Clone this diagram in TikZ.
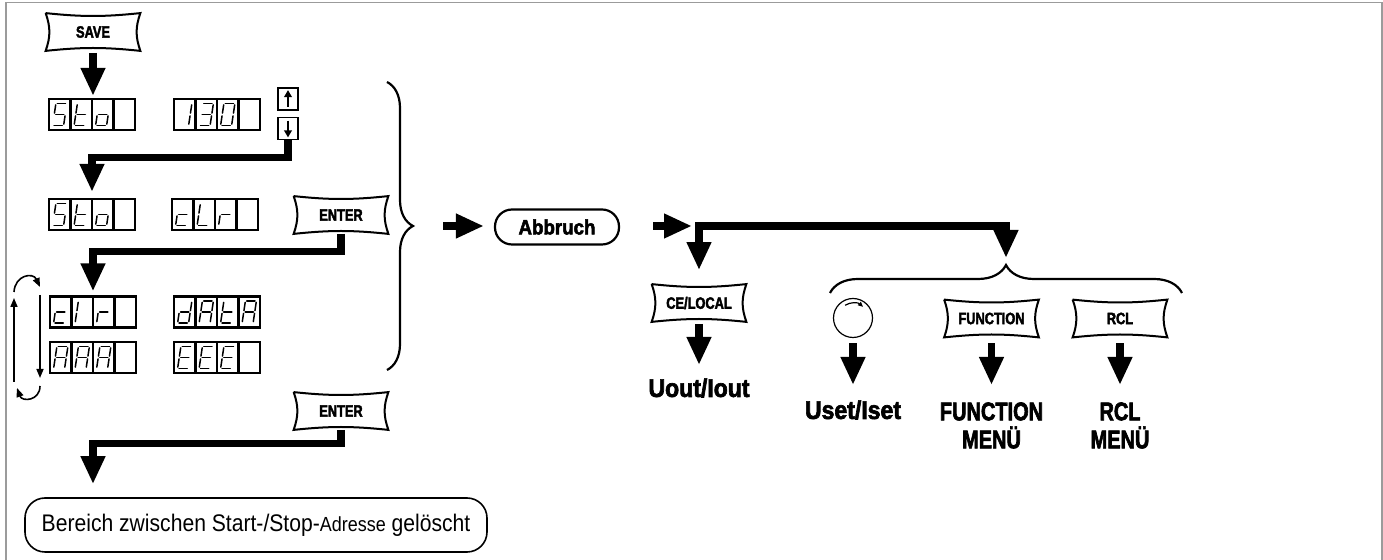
\documentclass[tikz,border=0pt]{standalone}
\usepackage{fontspec}
\setmainfont{Liberation Sans}
\newfontfamily\condfont[FakeStretch=0.78,BoldFeatures={FakeBold=2.5}]{Liberation Sans}
\newfontfamily\narrowfont[FakeStretch=0.9,BoldFeatures={FakeBold=2.5}]{Liberation Sans}
\newfontfamily\plainfont[FakeStretch=0.88]{Liberation Sans}
\usepackage{tikz}
\usetikzlibrary{
  arrows.meta,
  decorations.pathreplacing
}
\definecolor{framegray}{RGB}{155,155,155}
\tikzset{
  pageframe/.style={draw=framegray,line width=0.75pt},
  keylab/.style={font=\condfont\bfseries\fontsize{8.2}{9}\selectfont,
    minimum width=47pt,minimum height=18.5pt,inner sep=0pt},
  keyline/.style={line width=1pt},
  keycap/.style={keylab,append after command={\pgfextra{\draw[keyline]
    (\tikzlastnode.north west) to[bend right=6] (\tikzlastnode.north east)
    to[bend right=20] (\tikzlastnode.south east)
    to[bend right=6] (\tikzlastnode.south west)
    to[bend right=20] (\tikzlastnode.north west);}}},
  lcd/.style={draw,line width=1.1pt,minimum width=43pt,minimum height=15.5pt,
    inner sep=0pt},
  lcdframe/.style={line width=1.1pt},
  lcdseg/.style={line width=0.75pt,line cap=round,
    shorten <=0.7pt,shorten >=0.7pt},
  arrowkey/.style={draw,line width=0.9pt,minimum width=10pt,
    minimum height=11pt,inner sep=0pt},
  keyarrow/.style={line width=1.2pt,-{Triangle[length=3.5pt,width=3.8pt]}},
  flow/.style={line width=3.6pt,-{Triangle[length=14pt,width=11.5pt]}},
  cycarrow/.style={line width=0.8pt,-{Triangle[length=4.5pt,width=3.5pt]}},
  curly/.style={decorate,decoration={brace,amplitude=#1},line width=1.1pt},
  pill/.style={draw,line width=1.1pt,rounded corners=8.5pt,
    minimum width=62pt,minimum height=17.5pt,inner sep=0pt,
    font=\narrowfont\bfseries\fontsize{10.4}{12}\selectfont},
  endbox/.style={draw,line width=0.8pt,rounded corners=10pt,
    minimum width=231pt,minimum height=27pt,inner sep=0pt,
    font=\plainfont\fontsize{12}{13}\selectfont},
  knob/.style={circle,draw,line width=0.6pt,minimum size=19.5pt,inner sep=0pt},
  knobarrow/.style={line width=0.6pt,-{Triangle[length=2.5pt,width=2.2pt]}},
  result/.style={font=\narrowfont\bfseries\fontsize{12.8}{14}\selectfont,
    inner sep=0pt,align=center,anchor=north},
  menu/.style={result,font=\condfont\bfseries\fontsize{12.8}{14}\selectfont}
}

% seven-segment glyphs
\def\lcdsega{(-3.85,-11)--(7.15,-11)}
\def\lcdsegb{(7.15,-11)--(5.5,0)}
\def\lcdsegc{(5.5,0)--(3.85,11)}
\def\lcdsegd{(-7.15,11)--(3.85,11)}
\def\lcdsege{(-5.5,0)--(-7.15,11)}
\def\lcdsegf{(-3.85,-11)--(-5.5,0)}
\def\lcdsegg{(-5.5,0)--(5.5,0)}
\newcommand\lcddef[2]{\expandafter\def\csname lcdchar#1\endcsname{#2}}
\lcddef{S}{a,f,g,c,d}
\lcddef{t}{f,g,e,d}
\lcddef{o}{g,c,d,e}
\lcddef{1}{b,c}
\lcddef{3}{a,b,g,c,d}
\lcddef{0}{a,b,c,d,e,f}
\lcddef{c}{g,e,d}
\lcddef{L}{f,e,d}
\lcddef{r}{g,e}
\lcddef{l}{f,e}
\lcddef{d}{b,c,d,e,g}
\lcddef{A}{a,b,c,e,f,g}
\lcddef{E}{a,f,g,e,d}
\newcommand\lcdbox[4]{% name, left x, centre y, characters
  \node[lcd] (#1) at (#2+43,#3) {};
  \begin{scope}[shift={(#2,#3)}]
    \foreach \n in {1,2,3} \draw[lcdframe] (\n*21.5,-15.5) -- (\n*21.5,15.5);
    \foreach \ch [count=\i] in {#4} {
      \expandafter\let\expandafter\lcdcur\csname lcdchar\ch\endcsname
      \foreach \sg in \lcdcur {
        \expandafter\let\expandafter\lcdsegcur\csname lcdseg\sg\endcsname
        \draw[lcdseg,shift={(\i*21.5-10.75,0)}] \lcdsegcur;
      }
    }
  \end{scope}}

\begin{document}
\begin{tikzpicture}[x=0.5pt,y=-0.5pt]
  \useasboundingbox (0,0) rectangle (1383,560);
  \draw[pageframe] (6,560) -- (6,2.5) -- (1382,2.5) -- (1382,560);

  % storing / clearing sequence
  \node[keycap] (save) at (93,32) {SAVE};
  \lcdbox{lcda}{49}{114.5}{S,t,o}
  \lcdbox{lcdb}{174}{114.5}{1,3,0}
  \node[arrowkey] (keyup) at (288,99) {};
  \node[arrowkey] (keydn) at (288,128.5) {};
  \draw[keyarrow] ([yshift=2pt]keyup.south) -- ([yshift=-1.5pt]keyup.north);
  \draw[keyarrow] ([yshift=-2pt]keydn.north) -- ([yshift=1.5pt]keydn.south);

  \lcdbox{lcdc}{49}{214.5}{S,t,o}
  \lcdbox{lcdd}{172}{214.5}{c,L,r}
  \node[keycap] (enter1) at (341,215) {ENTER};

  \lcdbox{lcde}{50}{312}{c,l,r}
  \lcdbox{lcdf}{174}{312}{d,A,t,A}
  \lcdbox{lcdg}{50}{357.5}{A,A,A}
  \lcdbox{lcdh}{174}{357.5}{E,E,E}
  \draw[cycarrow] (14,382) -- (14,298);
  \draw[cycarrow] (40,295) -- (40,378);
  \draw[cycarrow] (14,292) .. controls (15,275) and (33,272) .. (40,287);
  \draw[cycarrow] (40,386) .. controls (40,401) and (22,402) .. (17,388);

  \node[keycap] (enter2) at (341,411) {ENTER};
  \node[endbox] (erase) at (256,525) {Bereich zwischen
    Start-/Stop-{\fontsize{10.2}{11}\selectfont Adresse} gelöscht};

  \draw[flow,shorten <=1pt,shorten >=1pt] (save.south) -- (save.south |- lcda.north);
  \draw[flow,shorten >=3pt] (keydn.south) -- ++(0,17) -| (lcdc.north);
  \draw[flow,shorten >=2pt] (enter1.south) -- ++(0,18) -| (lcde.north);
  \draw[flow,shorten >=6.5pt] (enter2.south) -- ++(0,14) -| (lcdg.north |- erase.north);

  % abort
  \draw[curly=13pt] (387,82) -- (387,370);
  \coordinate (btip) at (413,226);
  \node[pill] (abbruch) at (557,227) {Abbruch};
  \coordinate (junc) at (699,226);
  \draw[flow,shorten <=15pt,shorten >=5pt] (btip) -- (btip -| abbruch.west);
  \draw[flow,shorten <=16.5pt,shorten >=3.5pt] (abbruch.east |- junc) -- (junc);

  \node[keycap] (cel) at (699,303) {CE/LOCAL};
  \draw[curly=14pt] (830,293) -- (1182,293);
  \coordinate (btip2) at (1006,265);
  \draw[flow,shorten >=3.5pt] (junc) -| (btip2);
  \draw[flow,shorten <=-1.8pt,shorten >=7pt] (junc) -- (cel.north);

  \node[knob] (knob) at (853,318) {};
  \draw[knobarrow] (knob.center) ++(-122:15) arc (-122:-48:15);
  \node[keycap] (fkey) at (991.5,318.5) {FUNCTION};
  \node[keycap] (rkey) at (1120,318.5) {RCL};

  \node[result] (uout) at (699,378) {Uout/Iout};
  \node[result] (uset) at (853,400) {Uset/Iset};
  \node[menu] (fmenu) at (991.5,402) {FUNCTION\\MENÜ};
  \node[menu] (rmenu) at (1120,402) {RCL\\MENÜ};
  \draw[flow,shorten <=1pt,shorten >=6.5pt] (cel.south) -- (uout.north);
  \draw[flow,shorten <=2.5pt,shorten >=7.5pt] (knob.south) -- (uset.north);
  \draw[flow,shorten <=3pt,shorten >=8.5pt] (fkey.south) -- (fmenu.north);
  \draw[flow,shorten <=3pt,shorten >=8.5pt] (rkey.south) -- (rmenu.north);
\end{tikzpicture}
\end{document}
